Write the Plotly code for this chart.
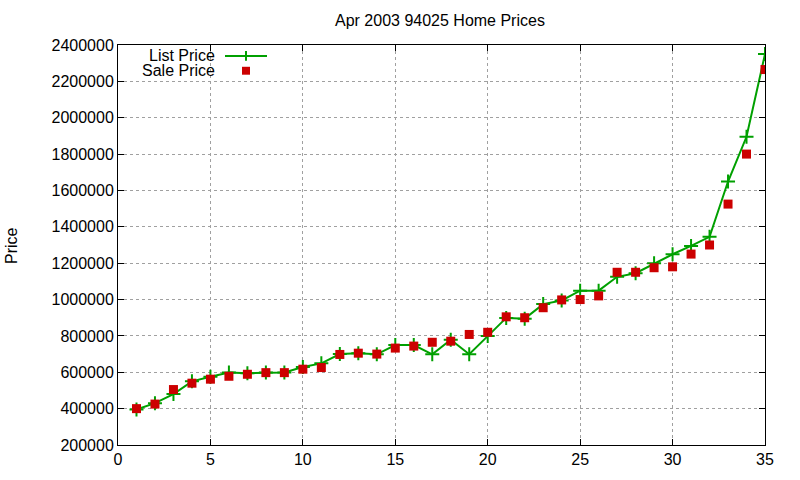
import plotly.graph_objects as go

listing_index = list(range(1, 36))
list_price = [395000, 430000, 480000, 550000, 575000, 599000, 595000, 599000, 599000, 629000,
              649000, 700000, 705000, 699000, 750000, 750000, 699000, 779000, 699000, 799000,
              899000, 895000, 975000, 995000, 1049000, 1049000, 1125000, 1145000, 1199000, 1249000,
              1295000, 1345000, 1649000, 1895000, 2350000]
sale_price = [400000, 425000, 505000, 540000, 562000, 578000, 589000, 598000, 598000, 617000,
              626000, 698000, 705000, 700000, 733000, 744000, 765000, 771000, 808000, 820000,
              905000, 900000, 955000, 998000, 1000000, 1020000, 1150000, 1150000, 1175000, 1180000,
              1250000, 1300000, 1525000, 1800000, 2265000]
x_ticks = [0, 5, 10, 15, 20, 25, 30, 35]
y_ticks = list(range(200000, 2400001, 200000))

GREEN = "#00a000"
RED = "#cc0000"
FONT = "Liberation Sans, Arial, sans-serif"

W, H = 800, 480
L, R, T, B = 118, 35, 45, 31

def px(xp):
    return (xp - L) / (W - L - R)

def py(yp):
    return 1 - (yp - T) / (H - T - B)

fig = go.Figure()
fig.add_trace(go.Scatter(x=listing_index, y=list_price, mode="lines+markers", name="List Price",
                         line=dict(color=GREEN, width=2),
                         marker=dict(symbol="cross-thin", size=10, line=dict(color=GREEN, width=2))))
fig.add_trace(go.Scatter(x=listing_index, y=sale_price, mode="markers", name="Sale Price",
                         marker=dict(symbol="square", size=9, color=RED, line=dict(width=0))))

axis_common = dict(showline=True, linecolor="black", linewidth=1, mirror="ticks",
                   ticks="inside", ticklen=6, tickcolor="black", tickwidth=1,
                   showgrid=True, gridcolor="#a0a0a0", griddash="dot", gridwidth=1,
                   zeroline=False, tickfont=dict(family=FONT, size=16, color="black"))

fig.update_xaxes(range=[0, 35], tickvals=x_ticks, ticktext=[str(v) for v in x_ticks], **axis_common)
fig.update_yaxes(range=[200000, 2400000], tickvals=y_ticks, ticktext=[str(v) for v in y_ticks],
                 **axis_common)

shapes = []
annotations = []
# legend
annotations.append(dict(xref="paper", yref="paper", x=px(217), y=py(56), xanchor="right", yanchor="middle",
                        text="List Price", showarrow=False, font=dict(family=FONT, size=16, color="black")))
annotations.append(dict(xref="paper", yref="paper", x=px(217), y=py(71), xanchor="right", yanchor="middle",
                        text="Sale Price", showarrow=False, font=dict(family=FONT, size=16, color="black")))
shapes.append(dict(type="line", xref="paper", yref="paper", x0=px(225), x1=px(267), y0=py(56), y1=py(56),
                   line=dict(color=GREEN, width=2)))
shapes.append(dict(type="line", xref="paper", yref="paper", x0=px(246), x1=px(246), y0=py(51), y1=py(61),
                   line=dict(color=GREEN, width=2)))
shapes.append(dict(type="rect", xref="paper", yref="paper", x0=px(242), x1=px(250), y0=py(67), y1=py(75),
                   line=dict(width=0), fillcolor=RED))
# title and y label
annotations.append(dict(xref="paper", yref="paper", x=px(440), y=py(20), xanchor="center", yanchor="middle",
                        text="Apr 2003 94025 Home Prices", showarrow=False,
                        font=dict(family=FONT, size=16, color="black")))
annotations.append(dict(xref="paper", yref="paper", x=px(12), y=py(248), xanchor="center", yanchor="middle",
                        text="Price", textangle=-90, showarrow=False,
                        font=dict(family=FONT, size=16, color="black")))

fig.update_layout(width=W, height=H, margin=dict(l=L, r=R, t=T, b=B),
                  paper_bgcolor="white", plot_bgcolor="white", showlegend=False,
                  shapes=shapes, annotations=annotations)

fig.write_html("out.html")
